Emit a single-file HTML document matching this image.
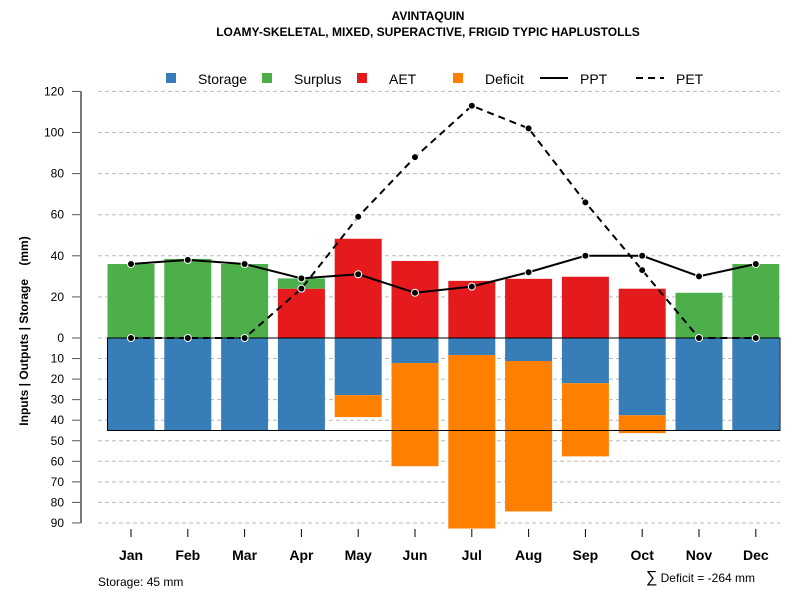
<!DOCTYPE html>
<html><head><meta charset="utf-8"><style>body{margin:0;background:#fff}svg{font-family:"Liberation Sans",sans-serif}</style></head>
<body>
<svg id="chart" width="800" height="600">
<text x="428" y="20" text-anchor="middle" font-size="12" font-weight="bold">AVINTAQUIN</text>
<text x="428" y="36" text-anchor="middle" font-size="12" font-weight="bold">LOAMY-SKELETAL, MIXED, SUPERACTIVE, FRIGID TYPIC HAPLUSTOLLS</text>
<g>
<rect x="166" y="73" width="10" height="10" fill="#377eb8"/>
<text x="198" y="84" font-size="14">Storage</text>
<rect x="262" y="73" width="10" height="10" fill="#4daf4a"/>
<text x="294" y="84" font-size="14">Surplus</text>
<rect x="357" y="73" width="10" height="10" fill="#e41a1c"/>
<text x="389" y="84" font-size="14">AET</text>
<rect x="453" y="73" width="10" height="10" fill="#ff7f00"/>
<text x="485" y="84" font-size="14">Deficit</text>
<line x1="540" y1="78" x2="568" y2="78" stroke="#000" stroke-width="2"/>
<text x="580" y="84" font-size="14">PPT</text>
<line x1="636" y1="78" x2="664" y2="78" stroke="#000" stroke-width="2" stroke-dasharray="7,5"/>
<text x="676" y="84" font-size="14">PET</text>
</g>
<text transform="translate(28,331) rotate(-90)" text-anchor="middle" font-size="12" font-weight="bold" style="white-space:pre">Inputs | Outputs | Storage    (mm)</text>
<g id="grid"></g><g id="bars"></g><g id="lines"></g><g id="axes"></g>
<text x="98" y="586" font-size="12">Storage: 45 mm</text>
<text x="755" y="582" text-anchor="end" font-size="12"><tspan font-size="16">∑</tspan> Deficit = -264 mm</text>
</svg>
<script>
const months=["Jan","Feb","Mar","Apr","May","Jun","Jul","Aug","Sep","Oct","Nov","Dec"];
const surplus=[36,38.5,36,5,0,0,0,0,0,0,22,36];
const aet=[0,0,0,24,48.3,37.5,27.8,28.8,29.8,24,0,0];
const storage=[45,45,45,45,27.8,12.2,8.3,11.2,22,37.6,45,45];
const deficit=[0,0,0,0,10.7,50.2,84.4,73.2,35.6,8.7,0,0];
const ppt=[36,38,36,29,31,22,25,32,40,40,30,36];
const pet=[0,0,0,24,59,88,113,102,66,33,0,0];
const upTicks=[0,20,40,60,80,100,120];
const downTicks=[10,20,30,40,50,60,70,80,90];
const ns="http://www.w3.org/2000/svg";
const y0=338,k=2.055;
const yU=v=>y0-v*k, yD=v=>y0+v*k;
const xC=i=>131+i*56.8;
const bw=47;
function mk(p,t,a){const e=document.createElementNS(ns,t);for(const n in a)e.setAttribute(n,a[n]);document.getElementById(p).appendChild(e);return e;}
upTicks.concat(downTicks).forEach((v,j)=>{
 const y=j<upTicks.length?yU(v):yD(v);
 const g=mk('grid','line',{x1:98,x2:780,y1:y,y2:y,stroke:'#bbb','stroke-dasharray':'4,3'});
 
 
 const t=mk('axes','line',{x1:72,x2:81,y1:y,y2:y,stroke:'#555'});
 
 
 const l=mk('axes','text',{x:64,y:y+4,'text-anchor':'end','font-size':12});
 l.textContent=v;
 
 
});
const ax=mk('axes','line',{x1:81,x2:81,y1:yU(120),y2:yD(90),stroke:'#777','stroke-width':2});


months.forEach((m,i)=>{
 const x=xC(i)-bw/2;
 const s=mk('bars','rect',{x:x,y:y0,width:bw,height:storage[i]*k,fill:'#377eb8'});
 
 
 if(deficit[i]>0){const d=mk('bars','rect',{x:x,y:yD(storage[i]),width:bw,height:deficit[i]*k,fill:'#ff7f00'});
 
 }
 if(aet[i]>0){const a=mk('bars','rect',{x:x,y:yU(aet[i]),width:bw,height:aet[i]*k,fill:'#e41a1c'});
 
 }
 if(surplus[i]>0){const u=mk('bars','rect',{x:x,y:yU(aet[i]+surplus[i]),width:bw,height:surplus[i]*k,fill:'#4daf4a'});
 
 }
 const t=mk('axes','line',{x1:xC(i),x2:xC(i),y1:529,y2:537,stroke:'#000'});
 
 
 const l=mk('axes','text',{x:xC(i),y:560,'text-anchor':'middle','font-size':14,'font-weight':'bold'});
 l.textContent=m;
 
 
});
const box=mk('bars','rect',{x:xC(0)-bw/2,y:y0,width:780-(xC(0)-bw/2),height:45*k,fill:'none',stroke:'#000'});


[[ppt,'none','ppt'],[pet,'7,5','pet']].forEach(([arr,da,n])=>{
 const p=mk('lines','polyline',{points:arr.map((v,i)=>xC(i)+','+yU(v)).join(' '),fill:'none',stroke:'#000','stroke-width':2,'stroke-dasharray':da});
 
 
 arr.forEach((v,i)=>{const c=mk('lines','circle',{cx:xC(i),cy:yU(v),r:3.5,fill:'#000',stroke:'#fff','stroke-width':1});
 
 });
});
</script>
</body></html>
